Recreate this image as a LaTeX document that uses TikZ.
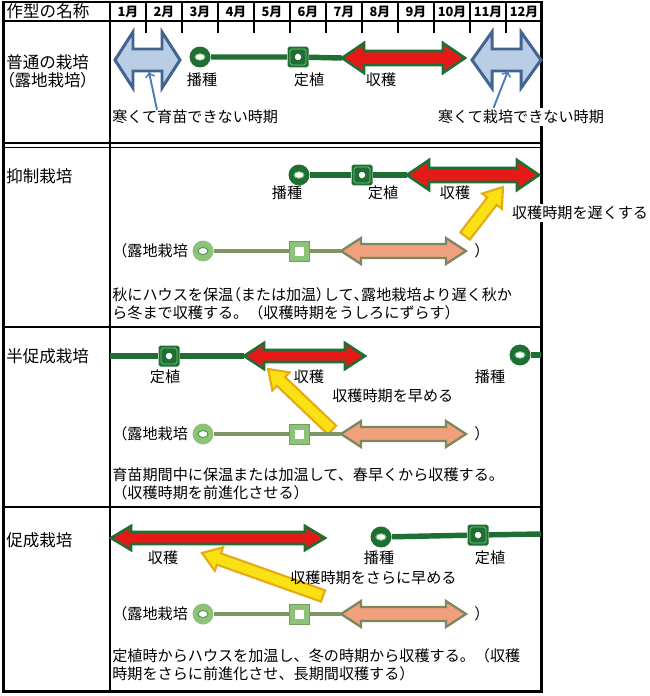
\documentclass[tikz,border=0pt]{standalone}
\usepackage{fontspec}
\setmainfont{Noto Sans CJK JP}
\newfontfamily\narrowjp{Noto Sans CJK JP}[RawFeature=+palt]
\usetikzlibrary{positioning}
\usetikzlibrary{calc}

\definecolor{dkgreen}{RGB}{31,110,52}
\definecolor{ltgreen}{RGB}{120,200,120}
\definecolor{harvred}{RGB}{230,25,25}
\definecolor{coldblue}{RGB}{185,205,229}
\definecolor{coldedge}{RGB}{65,100,145}
\definecolor{pointblue}{RGB}{75,125,185}
\definecolor{oldline}{RGB}{125,150,100}
\definecolor{oldgreen}{RGB}{140,195,120}
\definecolor{oldharvc}{RGB}{240,160,125}
\definecolor{oldedge}{RGB}{125,135,95}
\definecolor{shiftfill}{RGB}{250,225,20}
\definecolor{shiftedge}{RGB}{230,170,20}

% two headed band arrow: style, name, x1, x2, y, head length, head half, shaft half
\newcommand{\twohead}[8]{%
  \coordinate (#2w) at (#3,#5);
  \coordinate (#2e) at (#4,#5);
  \draw[#1] (#2w) -- (#3+#6,#5-#7) -- (#3+#6,#5-#8) -- (#4-#6,#5-#8) -- (#4-#6,#5-#7) -- (#2e)
    -- (#4-#6,#5+#7) -- (#4-#6,#5+#8) -- (#3+#6,#5+#8) -- (#3+#6,#5+#7) -- cycle;}

% yellow band arrow from tail to tip
\newcommand{\shiftarrow}[2]{%
  \coordinate (hb) at ($(#2)!0.36cm!(#1)$);
  \draw[shiftarr] ($(#1)!0.12cm!90:(#2)$) -- ($(hb)!0.12cm!90:(#2)$) -- ($(hb)!0.25cm!90:(#2)$) -- (#2)
    -- ($(hb)!0.25cm!-90:(#2)$) -- ($(hb)!0.12cm!-90:(#2)$) -- ($(#1)!0.12cm!-90:(#2)$) -- cycle;}

\begin{document}
\begin{tikzpicture}[x=0.02cm, y=-0.02cm,
  tblline/.style={line width=1.7pt},
  tblthin/.style={line width=1.1pt},
  txt/.style={inner sep=0pt, font=\fontsize{8.6}{10.2}\selectfont},
  rowname/.style={inner sep=0pt, anchor=west, font=\fontsize{9.4}{11}\selectfont},
  month/.style={inner sep=0pt, font=\fontsize{7.3}{8}\selectfont\bfseries},
  sow/.style={circle, inner sep=0pt, minimum size=0.42cm, fill=dkgreen,
    path picture={\fill[white, draw=ltgreen, line width=0.5pt] (path picture bounding box.center) ellipse [x radius=0.1cm, y radius=0.065cm];}},
  plant/.style={rectangle, inner sep=0pt, minimum size=0.42cm, fill=dkgreen, rounded corners=1pt,
    path picture={\draw[ltgreen, line width=0.4pt] ([shift={(0.05cm,0.05cm)}]path picture bounding box.south west) rectangle ([shift={(-0.05cm,-0.05cm)}]path picture bounding box.north east);
      \fill[white] ([shift={(-0.06cm,-0.06cm)}]path picture bounding box.center) rectangle ([shift={(0.06cm,0.06cm)}]path picture bounding box.center);}},
  fsow/.style={circle, inner sep=0pt, minimum size=0.42cm, fill=oldgreen,
    path picture={\fill[white, draw=dkgreen!60!oldgreen, line width=0.5pt] (path picture bounding box.center) ellipse [x radius=0.1cm, y radius=0.07cm];}},
  fplant/.style={rectangle, inner sep=0pt, minimum size=0.4cm, fill=oldgreen, draw=oldgreen!80!black, line width=0.4pt,
    path picture={\fill[white] ([shift={(-0.09cm,-0.09cm)}]path picture bounding box.center) rectangle ([shift={(0.09cm,0.09cm)}]path picture bounding box.center);}},
  tl/.style={line width=3.1pt, dkgreen},
  oldtl/.style={line width=2.3pt, oldline},
  harv/.style={fill=harvred, draw=dkgreen, line width=1.5pt},
  cold/.style={fill=coldblue, draw=coldedge, line width=1.7pt},
  oldharv/.style={fill=oldharvc, draw=oldedge, line width=1.3pt},
  shiftarr/.style={fill=shiftfill, draw=shiftedge, line width=1.2pt},
  pointer/.style={->, pointblue, line width=1.1pt}]

 \useasboundingbox (0,0) rectangle (649,696);

 %table
 \draw[tblline] (3.5,2) rectangle (541,691);
 \draw[tblline] (110,2) -- (110,691);
 \draw[tblline] (3.5,21) -- (541,21);
 \draw[tblthin] (3.5,143) -- (541,143);
 \draw[tblthin] (3.5,147.5) -- (541,147.5);
 \draw[tblline] (3.5,327) -- (541,327);
 \draw[tblline] (3.5,507) -- (541,507);

 \node[inner sep=0pt, font=\fontsize{9.4}{11}\selectfont] (title) at (48,11) {作型の名称};
 \foreach \m in {1,...,12} {
         \node[month] (m\m) at (110+36*\m-18, 12) {\m 月};
 }
 \foreach \m in {1,...,11} {
         \draw[tblthin] (110+36*\m, 2) -- (110+36*\m, 33);
 }

 %level 1 : open field
 \node[rowname] (r1name) at (6,62) {普通の栽培};
 \node[rowname] (r1name2) at (6,80) {\narrowjp （露地栽培）};

 \twohead{cold}{c1}{115}{180}{60}{18}{28}{11}
 \twohead{cold}{c2}{472}{541}{60}{20}{28}{11}

 \node[sow] (s1) at (200,57) {};
 \node[plant] (p1) at (298,57) {};
 \twohead{harv}{h1}{342}{465}{58}{22}{15}{7}
 \draw[tl] (s1) -- (p1) -- (h1w);

 \node[txt] (l1a) at (202,80) {播種};
 \node[txt] (l1b) at (309,80) {定植};
 \node[txt] (l1c) at (381,80) {収穫};

 \node[txt, anchor=west] (cold1) at (112,117) {寒くて育苗できない時期};
 \node[txt, anchor=west, fill=white, inner sep=1pt] (cold2) at (436,117) {寒くて栽培できない時期};
 \coordinate (c1p) at (149,72);
 \coordinate (c2p) at (508,71);
 %pointers
 \draw[pointer] ([xshift=0.9cm]cold1.north west) -- (c1p);
 \draw[pointer] ([xshift=1.15cm]cold2.north west) -- (c2p);

 %level 2 : retarding
 \node[rowname] (r2name) at (6,176) {抑制栽培};
 \node[sow] (s2) at (299,175) {};
 \node[plant] (p2) at (362,175) {};
 \twohead{harv}{h2}{407}{539}{175}{22}{15}{7}
 \draw[tl] (s2) -- (p2) -- (h2w);

 \node[txt] (l2a) at (287,193) {播種};
 \node[txt] (l2b) at (383,193) {定植};
 \node[txt] (l2c) at (455,193) {収穫};

 \coordinate (y2t) at (465,236);
 \coordinate (y2h) at (503,187);
 \shiftarrow{y2t}{y2h}
 \node[txt, anchor=west, fill=white, inner sep=1pt] (late) at (510,213) {収穫時期を遅くする};

 \node[txt, anchor=west, align=left] (d2) at (112,304) {秋にハウスを保温{\narrowjp （}または加温{\narrowjp ）}して{\narrowjp 、}露地栽培より遅く秋か\\ら冬まで収穫する。（収穫時期をうしろにずらす）};

 %level 3 : semi forcing
 \node[rowname] (r3name) at (6,356) {半促成栽培};
 \coordinate (b3) at (110,356);
 \node[plant] (p3) at (169,356) {};
 \twohead{harv}{h3}{244}{365}{356}{20}{13}{6}
 \draw[tl] (b3) -- (p3) -- (h3w);
 \node[sow] (s3) at (520,355) {};
 \coordinate (e3) at (541,355);
 \draw[tl] (s3) -- (e3);

 \node[txt] (l3a) at (165,377) {定植};
 \node[txt] (l3b) at (309,377) {収穫};
 \node[txt] (l3c) at (490,377) {播種};

 \coordinate (y3t) at (332,430);
 \coordinate (y3h) at (268,369);
 \shiftarrow{y3t}{y3h}
 \node[txt, anchor=west] (early) at (332,396) {収穫時期を早める};

 \node[txt, anchor=west, align=left] (d3) at (112,484) {育苗期間中に保温または加温して、春早くから収穫する。\\（収穫時期を前進化させる）};

 %level 4 : forcing
 \node[rowname] (r4name) at (6,540) {促成栽培};
 \twohead{harv}{h4}{111}{325}{538}{20}{12}{6}
 \node[sow] (s4) at (381,537) {};
 \node[plant] (p4) at (478,535) {};
 \coordinate (e4) at (541,534);
 \draw[tl] (s4) -- (p4) -- (e4);

 \node[txt] (l4a) at (163,558) {収穫};
 \node[txt] (l4b) at (379,558) {播種};
 \node[txt] (l4c) at (490,558) {定植};

 \coordinate (y4t) at (323,596);
 \coordinate (y4h) at (202,553);
 \shiftarrow{y4t}{y4h}
 \node[txt, anchor=west] (earlier) at (290,578) {収穫時期をさらに早める};

 \node[txt, anchor=west, align=left] (d4) at (112,665) {定植時からハウスを加温し、冬の時期から収穫する。（収穫\\時期をさらに前進化させ、長期間収穫する）};

 %open field reference lines
 \foreach \fy/\n in {251/a, 434/b, 614/c} {
         \node[txt, anchor=west] (open\n) at (112,\fy) {（露地栽培};
         \node[fsow] (fs\n) at (203,\fy) {};
         \node[fplant] (fp\n) at (299,\fy) {};
         \twohead{oldharv}{fh\n}{341}{466}{\fy}{20}{13}{7}
         \draw[oldtl] (fs\n) -- (fp\n) -- (fh\n w);
         \node[txt] (close\n) at (482,\fy) {）};
 }

\end{tikzpicture}
\end{document}
